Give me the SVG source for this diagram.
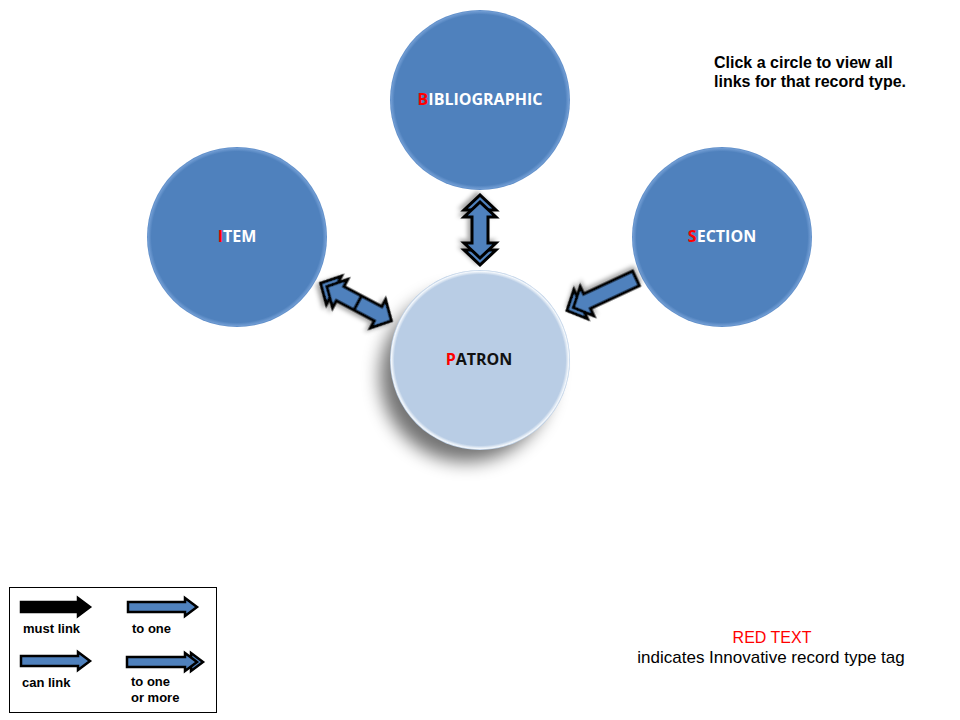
<svg xmlns="http://www.w3.org/2000/svg" width="960" height="720" viewBox="0 0 960 720">
<defs>
  <radialGradient id="gDark" cx="50%" cy="50%" r="50%">
    <stop offset="0" stop-color="#4F81BD"/>
    <stop offset="0.95" stop-color="#4F81BD"/>
    <stop offset="0.985" stop-color="#6F9BD2"/>
    <stop offset="1" stop-color="#5B8BC7"/>
  </radialGradient>
  <radialGradient id="gLight" cx="50%" cy="50%" r="50%">
    <stop offset="0" stop-color="#B9CDE5"/>
    <stop offset="0.95" stop-color="#B9CDE5"/>
    <stop offset="0.985" stop-color="#F4F8FC"/>
    <stop offset="1" stop-color="#B3C9E3"/>
  </radialGradient>
  <filter id="shadowBig" x="-40%" y="-40%" width="180%" height="180%">
    <feGaussianBlur stdDeviation="9"/>
  </filter>
  <filter id="arrowShadow" x="-30%" y="-30%" width="160%" height="160%">
    <feDropShadow dx="-2" dy="3" stdDeviation="2" flood-color="#000" flood-opacity="0.35"/>
  </filter>
  <style>
    .lbl { font-family: "Open Sans", "Noto Sans", sans-serif; font-weight: 700; font-size: 16px; text-anchor: middle; }
    .w { fill: #FFFFFF; }
    .k { fill: #111111; }
    .red { fill: #FF0000; }
    .arr { fill: #4F81BD; stroke: #000; stroke-width: 3; stroke-linejoin: miter; }
    .larr { fill: #4F81BD; stroke: #000; stroke-width: 2.5; stroke-linejoin: miter; }
    .note { font-family: "Liberation Sans", Arial, sans-serif; font-weight: 700; font-size: 16px; fill: #000; }
    .leg { font-family: "Liberation Sans", Arial, sans-serif; font-weight: 700; font-size: 13px; fill: #000; }
    .tag { font-family: "Liberation Sans", Arial, sans-serif; font-size: 17px; fill: #000; text-anchor: middle; }
  </style>
</defs>
<rect width="960" height="720" fill="#FFFFFF"/>

<g id="bibliographic">
  <circle cx="480" cy="100" r="90" fill="url(#gDark)"/>
  <text class="lbl w" x="480" y="105"><tspan class="red">B</tspan>IBLIOGRAPHIC</text>
</g>
<g id="item">
  <circle cx="237" cy="237" r="90" fill="url(#gDark)"/>
  <text class="lbl w" x="237" y="242"><tspan class="red">I</tspan>TEM</text>
</g>
<g id="section">
  <circle cx="722" cy="237" r="90" fill="url(#gDark)"/>
  <text class="lbl w" x="722" y="242"><tspan class="red">S</tspan>ECTION</text>
</g>
<g id="patron">
  <circle cx="466" cy="376" r="86" fill="#000" opacity="0.55" filter="url(#shadowBig)"/>
  <circle cx="480" cy="360" r="90" fill="url(#gLight)"/>
  <text class="lbl k" x="479" y="365"><tspan class="red">P</tspan>ATRON</text>
</g>

<g id="connectors">
  <g transform="translate(480,230) rotate(90)" filter="url(#arrowShadow)">
    <path class="arr" d="M35,0 L20,-16 L20,16 Z"/>
    <path class="arr" d="M-35,0 L-20,-16 L-20,16 Z"/>
    <path class="arr" d="M-28,0 L-13,-16 L-13,-8 L13,-8 L13,-16 L28,0 L13,16 L13,8 L-13,8 L-13,16 Z"/>
  </g>
  <g transform="translate(356,302) rotate(28)" filter="url(#arrowShadow)">
    <path class="arr" d="M-40,0 L-25,-16 L-25,16 Z"/>
    <path class="arr" d="M-33,0 L-18,-16 L-18,-8 L25,-8 L25,-16 L40,0 L25,16 L25,8 L-18,8 L-18,16 Z"/>
    <path d="M2,-8 L2,8" stroke="#000" stroke-width="3"/>
  </g>
  <g transform="translate(601.5,294.5) rotate(155)" filter="url(#arrowShadow)">
    <path class="arr" d="M38,0 L23,-16 L23,16 Z"/>
    <path class="arr" d="M-38,-8 L16,-8 L16,-16 L31,0 L16,16 L16,8 L-38,8 Z"/>
  </g>
</g>

<g id="instructions">
  <text class="note" x="714" y="68">Click a circle to view all</text>
  <text class="note" x="714" y="87">links for that record type.</text>
</g>

<g id="legend">
  <rect x="9.5" y="587.5" width="207" height="125" fill="#FFFFFF" stroke="#000" stroke-width="1"/>
  <path d="M21,602 L78,602 L78,598 L90,607 L78,616 L78,612 L21,612 Z" fill="#000" stroke="#000" stroke-width="2.5"/>
  <text class="leg" x="23" y="633">must link</text>
  <path class="larr" d="M128,602 L185,602 L185,598 L197,607 L185,616 L185,612 L128,612 Z"/>
  <text class="leg" x="132" y="633">to one</text>
  <path class="larr" d="M21,656 L78,656 L78,652 L90,661 L78,670 L78,666 L21,666 Z"/>
  <text class="leg" x="22" y="687">can link</text>
  <path class="larr" d="M203,662 L191,653 L191,671 Z"/>
  <path class="larr" d="M127,657 L185,657 L185,653 L197,662 L185,671 L185,667 L127,667 Z"/>
  <text class="leg" x="131" y="686">to one</text>
  <text class="leg" x="131" y="702">or more</text>
</g>

<g id="tag-note">
  <text class="tag" x="772" y="643" style="fill:#FF0000;font-size:16px">RED TEXT</text>
  <text class="tag" x="771" y="663">indicates Innovative record type tag</text>
</g>
</svg>
